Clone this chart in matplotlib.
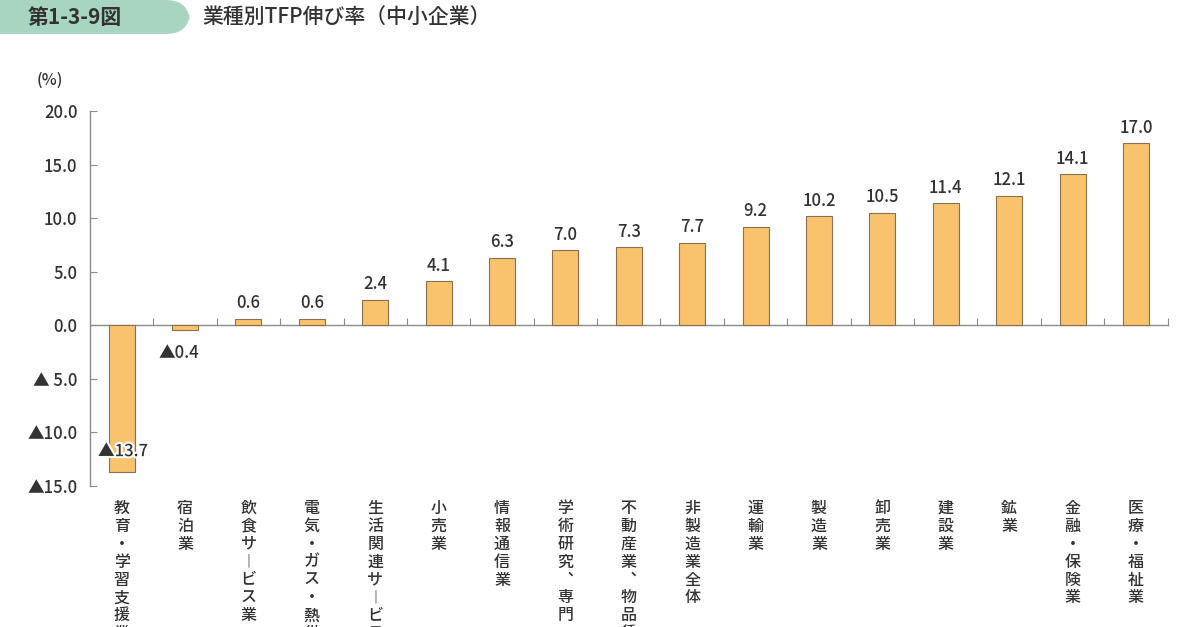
import matplotlib
matplotlib.use("Agg")
import matplotlib.pyplot as plt
import matplotlib.patheffects as patheffects
from matplotlib.patches import FancyBboxPatch
import numpy as np

plt.rcParams['font.family'] = ['Noto Sans CJK JP', 'DejaVu Sans']

# Data
categories = [
    "教育・学習支援業", "宿泊業", "飲食サービス業", "電気・ガス・熱供給・水道業",
    "生活関連サービス業、娯楽業", "小売業", "情報通信業", "学術研究、専門・技術サービス業",
    "不動産業、物品賃貸業", "非製造業全体", "運輸業", "製造業", "卸売業",
    "建設業", "鉱業", "金融・保険業", "医療・福祉業",
]
values = [-13.7, -0.4, 0.6, 0.6, 2.4, 4.1, 6.3, 7.0, 7.3, 7.7, 9.2, 10.2, 10.5, 11.4, 12.1, 14.1, 17.0]
yticks = [-15, -10, -5, 0, 5, 10, 15, 20]

TEXT = '#333333'
BAR = '#F9C36E'
EDGE = '#8a7050'
AXIS = '#8c8c8c'


def fmt(v):
    if v < 0:
        return "▲" + f"{abs(v):.1f}"
    return f"{v:.1f}"


def ytick_fmt(v):
    if v < 0:
        s = f"{abs(v):.1f}"
        return ("▲ " + s) if len(s) == 3 else ("▲" + s)
    return f"{v:.1f}"


def vertical(s):
    s = s.replace("ー", "︱").replace("、", "︑")
    return "\n".join(s)


fig = plt.figure(figsize=(12, 6.27), dpi=100)
ax = fig.add_axes([0.075, 0.2249, 0.898, 0.5981])

x = np.arange(len(values))
ax.bar(x, values, width=0.41, color=BAR, edgecolor=EDGE, linewidth=0.8, zorder=3)

ax.set_xlim(-0.5, 16.5)
ax.set_ylim(-15, 20)

# spines
for side in ['top', 'right']:
    ax.spines[side].set_visible(False)
ax.spines['left'].set_color(AXIS)
ax.spines['left'].set_linewidth(1.0)
ax.spines['bottom'].set_position(('data', 0))
ax.spines['bottom'].set_color(AXIS)
ax.spines['bottom'].set_linewidth(1.0)

ax.set_yticks(yticks)
ax.set_yticklabels([ytick_fmt(v) for v in yticks], fontsize=12, color=TEXT,
                   fontweight='medium')
ax.tick_params(axis='y', direction='in', length=5, color=AXIS, pad=9)
ax.set_xticks(np.arange(0.5, len(values), 1))
ax.set_xticklabels([])
ax.tick_params(axis='x', direction='in', length=5, color=AXIS)

# value labels
for i, v in enumerate(values):
    if v >= 0:
        ax.text(i, v + 0.6, fmt(v), ha='center', va='bottom', fontsize=12,
                color=TEXT, fontweight='medium', zorder=5)
ax.text(0.02, -11.75, fmt(values[0]), ha='center', va='center', fontsize=12,
        color=TEXT, fontweight='medium', zorder=5,
        path_effects=[patheffects.withStroke(linewidth=3, foreground='white')])
ax.text(0.9, -2.6, fmt(values[1]), ha='center', va='center', fontsize=12,
        color=TEXT, fontweight='medium', zorder=5)

# vertical category labels (long ones run off the bottom edge, as in the source)
for i, c in enumerate(categories):
    ax.text(i, -16.3, vertical(c), ha='center', va='top', fontsize=11.5,
            color=TEXT, fontweight='medium', linespacing=1.07, clip_on=False)

# unit
fig.text(50 / 1200, 1 - 80 / 627, "(%)", ha='center', va='center', fontsize=11.5,
         color=TEXT, fontweight='medium')

# header banner
banner = FancyBboxPatch((-0.02, 1 - 34 / 627), 190 / 1200 + 0.02, 34 / 627,
                        boxstyle="round,pad=0,rounding_size=0.02",
                        transform=fig.transFigure, facecolor='#A8D5C0',
                        edgecolor='none', mutation_aspect=1.9)
fig.patches.append(banner)
fig.text(75 / 1200, 1 - 17 / 627, "第1-3-9図", ha='center', va='center',
         fontsize=15, fontweight='bold', color=TEXT)
fig.text(202 / 1200, 1 - 17 / 627, "業種別TFP伸び率（中小企業）", ha='left', va='center',
         fontsize=15, fontweight='medium', color=TEXT)

fig.savefig("out.png", dpi=100)
